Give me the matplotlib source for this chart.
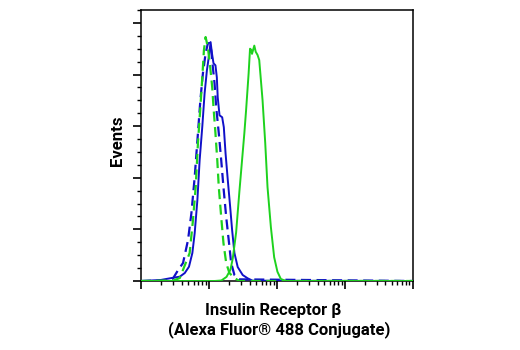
import matplotlib
matplotlib.use("Agg")
import matplotlib.pyplot as plt
from matplotlib.ticker import LogLocator, MultipleLocator, NullFormatter

# Intensity (x) and event counts (y)
blue_solid_x = [10, 19.6, 26.6, 37.3, 44.1, 50.9, 57.1, 61.8, 67.7, 73.1, 80.0, 86.5, 93.5, 99.1,
                106, 111, 117, 125, 131, 135, 143.5, 157, 166, 176, 190, 206, 220, 238, 266,
                315, 373, 441, 1e5]
blue_solid_y = [0, 1.0, 2.6, 4.2, 7.7, 13.8, 27.1, 46.4, 78.3, 117, 149.6, 181.8, 204, 215.7,
                231.4, 220.5, 210.9, 208.9, 197.3, 178, 160.5, 158.6, 149, 123.8, 97.7, 71.6,
                49.3, 27.1, 13.5, 5.8, 2.6, 0.3, 0]

blue_dashed_x = [10, 25, 29.7, 35.2, 41.6, 49.3, 55.3, 61.8, 69.0, 74.9, 81.7, 89.5, 96.7, 102.3,
                 108.3, 114.5, 121.2, 128.2, 140, 152, 164, 180, 196, 213, 238, 281, 1e5]
blue_dashed_y = [0, 0.5, 2.6, 10.6, 17.4, 39.7, 65.8, 100.6, 143.1, 175, 201.2, 220.5, 230.2,
                 230.5, 223.4, 207, 191.5, 168.3, 143.1, 117, 90.9, 61.9, 39.7, 17.4, 5.8, 1.6, 0]

green_dashed_x = [10, 30, 37.3, 52.1, 58.3, 63.9, 69.0, 74.9, 80.0, 84.5, 89.5, 96.7, 104.7, 112,
                  117, 125, 133, 140, 152, 164, 180, 201, 238, 281, 1e5]
green_dashed_y = [0, 0.5, 2.9, 27.1, 59, 90.9, 133.5, 168.3, 197.3, 223.4, 236.3, 226.3, 207,
                  187.6, 168.3, 143.1, 117, 90.9, 61.9, 36.8, 17.4, 7.7, 2.9, 0, 0]

green_solid_x = [10, 121, 153, 182, 208, 225, 252, 281, 333, 353, 385, 404, 420, 432, 467, 490,
                 521, 552, 585, 618, 676, 731, 820, 916, 1023, 1148, 1358, 1e5]
green_solid_y = [0, 0, 0.5, 4, 11, 22, 47, 86, 143, 165, 201, 225, 224, 220, 228, 222, 219, 214,
                 194, 175, 134, 91, 52, 23, 9, 2, 0, 0]

BLUE = "#1010c8"
GREEN = "#1ed21e"

fig = plt.figure(figsize=(5.2, 3.5), dpi=100)
ax = fig.add_axes([141 / 520, 1 - 281 / 350, (412.5 - 141) / 520, (281 - 10) / 350])

ax.plot(blue_solid_x, blue_solid_y, color=BLUE, lw=1.4, zorder=3)
ax.plot(blue_dashed_x, blue_dashed_y, color=BLUE, lw=1.6, ls=(0, (4.5, 2.5)), zorder=4)
ax.plot(green_dashed_x, green_dashed_y, color=GREEN, lw=1.6, ls=(0, (4.5, 2.5)), zorder=5)
ax.plot(green_solid_x, green_solid_y, color=GREEN, lw=1.4, zorder=6)

ax.set_xscale("log")
ax.set_xlim(10, 1e5)
ax.set_ylim(0, 262.5)
ax.xaxis.set_major_locator(LogLocator(base=10, numticks=10))
ax.xaxis.set_minor_locator(LogLocator(base=10, subs=range(2, 10), numticks=50))
ax.xaxis.set_major_formatter(NullFormatter())
ax.xaxis.set_minor_formatter(NullFormatter())
ax.yaxis.set_major_locator(MultipleLocator(50))
ax.yaxis.set_minor_locator(MultipleLocator(12.5))
ax.yaxis.set_major_formatter(NullFormatter())
ax.tick_params(which="major", direction="out", length=6, width=1.2, color="black")
ax.tick_params(which="minor", direction="out", length=3, width=1.0, color="black")
for s in ax.spines.values():
    s.set_linewidth(1.1)
    s.set_color("black")

fam = ["Roboto", "DejaVu Sans"]
fig.text(117.5 / 520, 1 - 141 / 350, "Events", rotation=90, ha="center", va="center",
         fontsize=12, fontweight="bold", family=fam)
fig.text(273 / 520, 1 - 311 / 350, "Insulin Receptor β", ha="center", va="center",
         fontsize=12, fontweight="bold", family=fam)
fig.text(279 / 520, 1 - 330 / 350, "(Alexa Fluor® 488 Conjugate)", ha="center", va="center",
         fontsize=12, fontweight="bold", family=fam)

fig.savefig("out.png", dpi=100)
